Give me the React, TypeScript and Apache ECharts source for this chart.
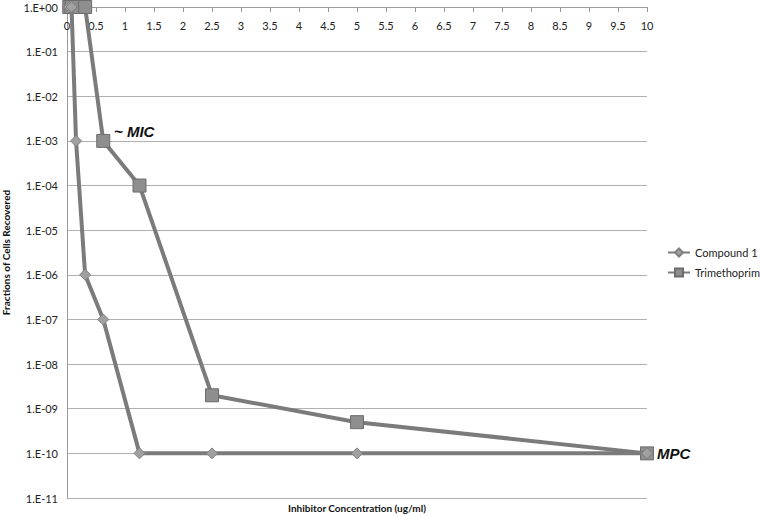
import React, { useEffect, useRef } from "react";
import * as echarts from "echarts";

const concentrations = [0.039, 0.078, 0.156, 0.3125, 0.625, 1.25, 2.5, 5, 10];
const compound1 = [1, 1, 1e-3, 1e-6, 1e-7, 1e-10, 1e-10, 1e-10, 1e-10];
const trimethoprim = [1, 1, 1, 1, 1e-3, 1e-4, 2e-9, 5e-10, 1e-10];
const seriesNames = ["Compound 1", "Trimethoprim"];

const FONT = "Lato, 'Open Sans', sans-serif";

function fmtExp(v: number): string {
  const e = Math.round(Math.log10(v));
  const sign = e < 0 ? "-" : "+";
  const a = Math.abs(e);
  return "1.E" + sign + (a < 10 ? "0" + a : "" + a);
}

export default function App() {
  const ref = useRef<HTMLDivElement>(null);
  useEffect(() => {
    const chart = echarts.init(ref.current!, null, { renderer: "svg" });
    const lineColor = "#7b7b7b";
    chart.setOption({
      animation: false,
      backgroundColor: "#ffffff",
      textStyle: { fontFamily: FONT },
      grid: { left: 67, right: 113, top: 7, bottom: 18, containLabel: false, outerBoundsMode: "none" },
      legend: {
        orient: "vertical",
        left: 667,
        top: 247,
        padding: 0,
        itemWidth: 22,
        itemHeight: 10,
        itemGap: 9,
        textStyle: { fontFamily: FONT, fontSize: 11, color: "#222", overflow: "none" },
        data: seriesNames,
      },
      xAxis: {
        type: "value",
        position: "top",
        min: 0,
        max: 10,
        interval: 0.5,
        axisLine: { show: true, onZero: false, lineStyle: { color: "#9a9a9a", width: 1 } },
        axisTick: { show: true, inside: true, length: 5, lineStyle: { color: "#9a9a9a" } },
        axisLabel: { inside: true, margin: 13, fontSize: 11, color: "#222", fontFamily: FONT },
        splitLine: { show: false },
      },
      yAxis: {
        type: "log",
        logBase: 10,
        min: 1e-11,
        max: 1,
        interval: 1,
        splitNumber: 11,
        name: "Fractions of Cells Recovered",
        nameLocation: "middle",
        nameRotate: 90,
        nameGap: 56,
        nameTextStyle: { fontWeight: "bold", fontSize: 10, color: "#111", fontFamily: FONT },
        axisLine: { show: true, lineStyle: { color: "#9a9a9a", width: 1 } },
        axisTick: { show: false },
        axisLabel: { fontSize: 11, color: "#222", margin: 9, formatter: (v: number) => fmtExp(v), fontFamily: FONT },
        splitLine: { show: true, lineStyle: { color: "#b0b0b0", width: 1 } },
      },
      graphic: [
        {
          type: "text",
          style: {
            text: "Inhibitor Concentration (ug/ml)",
            x: 357,
            y: 508,
            align: "center",
            verticalAlign: "middle",
            font: "bold 10px " + FONT,
            fill: "#111",
          },
        },
        {
          type: "text",
          style: {
            text: "~ MIC",
            x: 114,
            y: 131,
            verticalAlign: "middle",
            font: "italic bold 15px Arial, 'Liberation Sans', sans-serif",
            fill: "#111",
          },
        },
        {
          type: "text",
          style: {
            text: "MPC",
            x: 657,
            y: 453,
            verticalAlign: "middle",
            font: "italic bold 15px Arial, 'Liberation Sans', sans-serif",
            fill: "#111",
          },
        },
      ],
      series: [
        {
          name: seriesNames[0],
          type: "line",
          data: concentrations.map((c, i) => [c, compound1[i]]),
          symbol: "diamond",
          symbolSize: 11,
          lineStyle: { color: lineColor, width: 4 },
          itemStyle: { color: "#a0a0a0", borderColor: "#808080", borderWidth: 1 },
          z: 3,
        },
        {
          name: seriesNames[1],
          type: "line",
          data: concentrations.map((c, i) => [c, trimethoprim[i]]),
          symbol: "rect",
          symbolSize: 13,
          lineStyle: { color: lineColor, width: 4 },
          itemStyle: { color: "#8e8e8e", borderColor: "#6c6c6c", borderWidth: 1 },
          z: 2,
        },
      ],
    });
    return () => chart.dispose();
  }, []);
  return <div ref={ref} style={{ width: 760, height: 516, position: "absolute", left: 0, top: 0 }} />;
}
